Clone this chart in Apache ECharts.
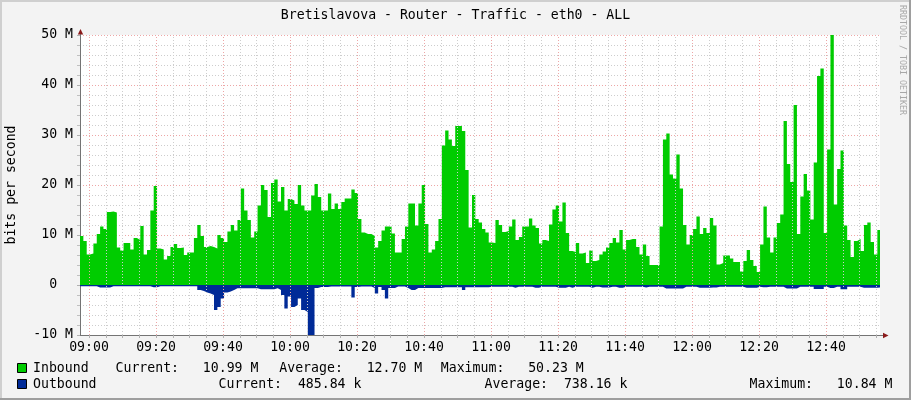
<!DOCTYPE html>
<html><head><meta charset="utf-8">
<script src="https://cdn.jsdelivr.net/npm/echarts@6/dist/echarts.min.js"></script>
<style>html,body{margin:0;padding:0;background:#f3f3f3}#c{width:911px;height:400px}</style>
</head><body><div id="c"></div>
<script>
// ---------- data ----------
const title = 'Bretislavova - Router - Traffic - eth0 - ALL';
const yAxisName = 'bits per second';
const watermark = 'RRDTOOL / TOBI OETIKER';
// first sample time in minutes relative to 09:00, one sample per minute
const startMinute = -2.69;
const endMinute = 236.1;
const stepMinutes = 1;

// Inbound traffic, Mbit/s
const inbound = [
  9.8,8.8,6.1,6.3,8.3,10.2,11.7,11.2,14.6,14.7,
  14.5,7.5,6.9,8.4,8.4,7.1,9.4,9.0,11.8,6.1,
  7.0,14.9,19.8,7.3,7.1,5.1,5.8,7.6,8.2,7.4,
  7.5,6.0,6.5,6.5,9.4,12.0,9.8,7.6,7.8,7.6,
  7.3,10.0,9.4,8.6,10.7,12.0,10.9,13.0,19.3,14.9,
  13.0,9.5,10.7,15.9,20.0,19.0,13.6,20.4,21.1,16.7,
  19.6,14.9,17.2,16.9,16.2,20.0,15.9,14.9,14.9,17.9,
  20.2,17.6,14.9,14.9,18.3,15.2,16.3,15.2,16.6,17.3,
  17.3,19.1,18.4,13.2,10.5,10.2,10.2,9.8,7.5,8.8,
  10.9,11.7,11.7,10.3,6.5,6.5,9.2,11.7,16.3,16.3,
  11.9,16.3,20.0,12.2,6.5,7.1,8.8,13.2,27.9,30.9,
  29.1,27.8,31.8,31.8,30.8,23.0,11.5,18.0,13.2,12.5,
  11.2,10.5,8.5,8.4,13.0,12.0,10.6,10.8,11.7,13.1,
  9.0,9.6,11.7,11.7,13.3,11.9,11.4,8.3,9.0,8.8,
  12.1,15.1,15.9,12.7,16.5,10.4,6.8,6.6,8.4,6.3,
  6.5,4.4,6.9,4.8,5.0,6.1,6.7,7.5,8.4,9.4,
  8.5,11.0,7.1,9.0,9.2,9.2,7.6,6.1,8.1,5.8,
  4.0,4.0,4.0,11.7,29.1,30.3,22.1,21.3,26.1,19.3,
  12.0,8.1,10.0,11.2,13.7,10.2,11.4,10.4,13.4,11.9,
  4.1,4.4,5.9,5.9,5.3,4.6,4.6,2.7,4.8,7.0,
  5.0,3.8,2.6,8.1,15.7,9.5,6.5,9.5,12.4,14.1,
  32.8,24.2,20.6,36.0,10.2,17.7,22.2,18.9,13.1,24.5,
  41.8,43.3,10.4,27.1,50.2,16.1,23.2,26.9,11.9,9.0,
  5.6,8.8,9.2,6.8,12.0,12.5,8.6,6.1,11.0,11.0
];
// Outbound traffic, Mbit/s (drawn below zero)
const outbound = [
  0.25,0.25,0.25,0.25,0.25,0.5,0.5,0.5,0.5,0.25,
  0.25,0.25,0.25,0.25,0.25,0.25,0.25,0.25,0.25,0.25,
  0.25,0.45,0.45,0.25,0.25,0.25,0.25,0.25,0.25,0.25,
  0.25,0.25,0.25,0.25,0.25,1.0,1.2,1.5,1.7,2.0,
  5.0,4.4,2.7,1.5,1.3,1.0,0.65,0.65,0.65,0.65,
  0.65,0.65,0.65,0.85,0.85,0.85,0.85,0.85,0.65,1.0,
  2.0,4.7,2.3,4.4,4.0,2.7,5.0,5.4,10.1,10.84,
  0.6,0.4,0.4,0.4,0.3,0.3,0.3,0.3,0.3,0.3,
  0.3,2.5,0.4,0.3,0.3,0.3,0.3,0.6,1.7,0.4,
  1.0,2.7,0.6,0.6,0.3,0.3,0.3,0.6,1.0,1.0,
  0.6,0.6,0.6,0.6,0.6,0.6,0.6,0.6,0.45,0.45,
  0.45,0.45,0.45,0.45,1.0,0.45,0.45,0.45,0.45,0.45,
  0.45,0.45,0.35,0.35,0.35,0.35,0.35,0.35,0.35,0.55,
  0.35,0.35,0.35,0.35,0.35,0.55,0.55,0.35,0.35,0.35,
  0.35,0.35,0.55,0.55,0.55,0.35,0.55,0.35,0.35,0.35,
  0.35,0.35,0.55,0.35,0.35,0.5,0.5,0.5,0.35,0.35,
  0.55,0.55,0.35,0.35,0.35,0.35,0.35,0.35,0.5,0.35,
  0.35,0.35,0.35,0.35,0.7,0.7,0.7,0.7,0.7,0.7,
  0.35,0.35,0.35,0.35,0.55,0.55,0.55,0.55,0.5,0.5,
  0.35,0.35,0.35,0.35,0.35,0.35,0.35,0.35,0.55,0.55,
  0.55,0.55,0.35,0.45,0.45,0.35,0.35,0.35,0.35,0.35,
  0.7,0.7,0.7,0.7,0.35,0.35,0.35,0.35,0.35,0.8,
  0.8,0.8,0.35,0.6,0.6,0.35,0.35,0.85,0.85,0.35,
  0.35,0.35,0.35,0.55,0.55,0.55,0.55,0.55,0.49,0.49
];

const xTickMinutes = [0,20,40,60,80,100,120,140,160,180,200,220];
const xTickLabels = ['09:00','09:20','09:40','10:00','10:20','10:40','11:00','11:20','11:40','12:00','12:20','12:40'];
const xMinorMinutes = [5,10,15,25,30,35,45,50,55,65,70,75,85,90,95,105,110,115,125,130,135,145,150,155,165,170,175,185,190,195,205,210,215,225,230,235];
const yMin = -10, yMax = 50, yStep = 10;

const legendRows = [
  {name:'Inbound',  color:'#00cc00', parts:[{x:115.5,t:'Current:   10.99 M'},{x:279.3,t:'Average:   12.70 M'},{x:440.8,t:'Maximum:   50.23 M'}]},
  {name:'Outbound', color:'#002a97', parts:[{x:218.5,t:'Current:  485.84 k'},{x:484.5,t:'Average:  738.16 k'},{x:749.5,t:'Maximum:   10.84 M'}]}
];

// ---------- chart ----------
const FONT = 'DejaVu Sans Mono';
const FS = 13.2;
const times = inbound.map((_, i) => startMinute + i * stepMinutes);
const inData = inbound.map((v, i) => [times[i], v]);
const outData = outbound.map((v, i) => [times[i], -v]);

const MINOR = '#cdcdcd', MAJOR = '#eda6a6', AXIS = '#747474', ARROW = '#8b1a1a';
const gridLines = [
  ...xMinorMinutes.map(v => ({xAxis: v, lineStyle: {color: MINOR, type: [1, 2], width: 1}})),
  ...xTickMinutes.map(v => ({xAxis: v, lineStyle: {color: MAJOR, type: [1, 2], width: 1}}))
];

const G = {left: 80, right: 31, top: 35, bottom: 65};
const graphic = [
  {type:'rect', shape:{x:0,y:0,width:911,height:2}, style:{fill:'#cfcfcf'}, silent:true},
  {type:'rect', shape:{x:0,y:0,width:2,height:400}, style:{fill:'#cfcfcf'}, silent:true},
  {type:'rect', shape:{x:0,y:398,width:911,height:2}, style:{fill:'#9e9e9e'}, silent:true},
  {type:'rect', shape:{x:909,y:0,width:2,height:400}, style:{fill:'#9e9e9e'}, silent:true},
  {type:'text', x:455.5, y:16, style:{text:title, fontFamily:FONT, fontSize:FS, fill:'#000', align:'center', verticalAlign:'middle'}},
  {type:'text', x:12, y:185, rotation:Math.PI/2, style:{text:yAxisName, fontFamily:FONT, fontSize:FS, fill:'#000', align:'center', verticalAlign:'middle'}},
  {type:'text', x:902.5, y:60, rotation:-Math.PI/2, style:{text:watermark, fontFamily:FONT, fontSize:8.3, fill:'#a8a8a8', align:'center', verticalAlign:'middle'}},
  // axis arrows
  {type:'line', shape:{x1:80.5,y1:35,x2:80.5,y2:31}, style:{stroke:AXIS, lineWidth:1}},
  {type:'polygon', shape:{points:[[77.8,34.5],[83.2,34.5],[80.5,29]]}, style:{fill:ARROW}},
  {type:'line', shape:{x1:880,y1:335.5,x2:884,y2:335.5}, style:{stroke:AXIS, lineWidth:1}},
  {type:'polygon', shape:{points:[[883,332.8],[883,338.2],[888.5,335.5]]}, style:{fill:ARROW}}
];
legendRows.forEach((r, k) => {
  const y = 368 + k * 16;
  graphic.push({type:'rect', shape:{x:17.5,y:y-4.5,width:9,height:9}, style:{fill:r.color, stroke:'#000', lineWidth:1}});
  graphic.push({type:'text', x:33, y:y+1, style:{text:r.name, fontFamily:FONT, fontSize:FS, fill:'#000', verticalAlign:'middle'}});
  r.parts.forEach(p => graphic.push({type:'text', x:p.x, y:y+1, style:{text:p.t, fontFamily:FONT, fontSize:FS, fill:'#000', verticalAlign:'middle'}}));
});

const chart = echarts.init(document.getElementById('c'), null, {renderer:'canvas'});
chart.setOption({
  animation: false,
  backgroundColor: '#f3f3f3',
  textStyle: {fontFamily: FONT},
  grid: {left:G.left, right:G.right, top:G.top, bottom:G.bottom, show:true, backgroundColor:'#ffffff', borderWidth:0},
  xAxis: {
    type:'value', min:startMinute, max:endMinute,
    axisLine:{show:true, onZero:false, lineStyle:{color:AXIS, width:1}},
    axisTick:{show:true, customValues: xTickMinutes.concat(xMinorMinutes), length:3, lineStyle:{color:'#b0b0b0'}},
    splitLine:{show:false},
    axisLabel:{customValues: xTickMinutes, formatter: v => xTickLabels[xTickMinutes.indexOf(Math.round(v))] || '',
      fontFamily:FONT, fontSize:FS, color:'#000', margin:6}
  },
  yAxis: {
    type:'value', min:yMin, max:yMax, interval:yStep,
    axisLine:{show:true, onZero:false, lineStyle:{color:AXIS, width:1}},
    axisTick:{show:true, length:3, lineStyle:{color:'#b0b0b0'}},
    minorTick:{show:true, splitNumber:5, length:3, lineStyle:{color:'#c0c0c0'}},
    splitLine:{show:true, lineStyle:{color:MAJOR, type:[1,2], width:1}},
    minorSplitLine:{show:true, lineStyle:{color:MINOR, type:[1,2], width:1}},
    axisLabel:{formatter: v => v === 0 ? '0  ' : v + ' M', fontFamily:FONT, fontSize:FS, color:'#000', margin:7}
  },
  series: [
    {type:'line', data:[], z:1, silent:true, symbol:'none',
     markLine:{silent:true, symbol:['none','none'], label:{show:false}, emphasis:{disabled:true}, animation:false, data:gridLines}},
    {name:'Inbound', type:'line', step:'end', symbol:'none', data:inData, z:3,
     lineStyle:{width:0, color:'#00cc00'}, areaStyle:{color:'#00cc00', opacity:1, origin:0}},
    {name:'Outbound', type:'line', step:'end', symbol:'none', data:outData, z:3,
     lineStyle:{width:0, color:'#002a97'}, areaStyle:{color:'#002a97', opacity:1, origin:0}}
  ],
  graphic: graphic
});
</script></body></html>
